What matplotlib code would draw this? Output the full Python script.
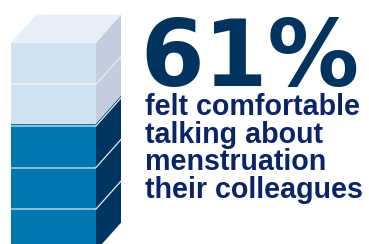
import matplotlib
matplotlib.use("Agg")
import matplotlib.pyplot as plt
from matplotlib.patches import Polygon

# data
percent = 61
n_blocks = 5
headline = "61%"
caption_lines = ["felt comfortable", "talking about", "menstruation", "their colleagues"]

# colours
light_front = "#D0E2EF"
light_side = "#C3CDDD"
top_face = "#E6EFF7"
dark_front = "#0077B1"
dark_side = "#00355F"
navy = "#00335E"
text_navy = "#0B2465"

W, H = 369, 244
fig = plt.figure(figsize=(W / 100, H / 100), dpi=100)
ax = fig.add_axes([0, 0, 1, 1])
ax.set_xlim(0, W)
ax.set_ylim(H, 0)
ax.axis("off")

# cube geometry (pixels)
x0, x1 = 11, 96
top = 42.7
block_h = 41.6
dx, dy = 25, 28
bottom = top + n_blocks * block_h
fill_y = bottom - (bottom - top) * percent / 100


def front(y_a, y_b, color):
    ax.add_patch(Polygon([(x0, y_a), (x1, y_a), (x1, y_b), (x0, y_b)],
                         closed=True, fc=color, ec="none"))


def side(y_a, y_b, color):
    ax.add_patch(Polygon([(x1, y_a), (x1 + dx, y_a - dy), (x1 + dx, y_b - dy), (x1, y_b)],
                         closed=True, fc=color, ec="none"))


front(top, fill_y, light_front)
front(fill_y, bottom, dark_front)
side(top, fill_y, light_side)
side(fill_y, bottom, dark_side)
ax.add_patch(Polygon([(x0, top), (x1, top), (x1 + dx, top - dy), (x0 + dx, top - dy)],
                     closed=True, fc=top_face, ec="none"))

# block separators
for i in range(1, n_blocks):
    yb = top + i * block_h
    c = "#EEF3F8" if yb < fill_y else "#A9C9DE"
    ax.plot([x0, x1], [yb, yb], color=c, lw=1.2, solid_capstyle="butt")
    ax.plot([x1, x1 + dx], [yb, yb - dy], color="#E4EAF2", lw=0.9)

# texts
ax.text(140, 86, headline, fontsize=66, fontweight="bold", family="DejaVu Sans",
        color=navy, va="baseline", ha="left")
for i, line in enumerate(caption_lines):
    ax.text(145, 115 + i * 27.7, line, fontsize=20.6, fontweight="bold",
            family="Liberation Sans", color=text_navy, va="baseline", ha="left")

fig.savefig("out.png", dpi=100)
